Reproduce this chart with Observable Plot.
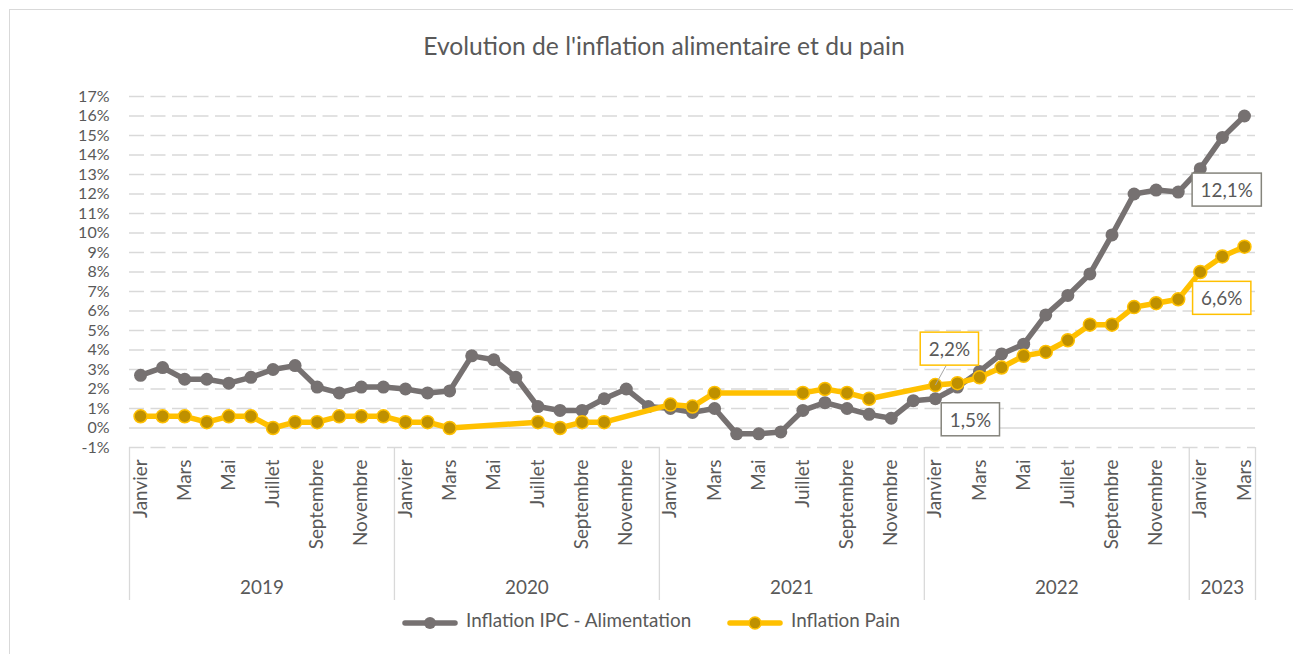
<!DOCTYPE html>
<html>
<head>
<meta charset="utf-8">
<script src="https://cdn.jsdelivr.net/npm/d3@7"></script>
<script src="https://cdn.jsdelivr.net/npm/@observablehq/plot@0.6"></script>
<style>
  html, body { margin: 0; padding: 0; background: #fff; overflow: hidden; }
  #wrap { position: relative; width: 1293px; height: 654px; overflow: hidden; font-family: Lato, "Open Sans", sans-serif; color: #595959; }
  #frame { position: absolute; left: 9px; top: 9px; width: 1500px; height: 900px; border: 1.5px solid #d9d9d9; box-sizing: border-box; }
  #chart { position: absolute; left: 0; top: 0; }
  #title { position: absolute; white-space: nowrap; line-height: 1; transform: translateX(-50%); }
  .leg { position: absolute; white-space: nowrap; line-height: 1; }
  .legsw { position: absolute; }
</style>
</head>
<body>
<div id="wrap">
  <div id="frame"></div>
  <div id="chart"></div>
  <div id="title"></div>
  <div id="legend"></div>
</div>
<script>
// ---------- data ----------
const titleText = "Evolution de l'inflation alimentaire et du pain";
const years = [2019, 2020, 2021, 2022, 2023];
const monthNames = ["Janvier", "Février", "Mars", "Avril", "Mai", "Juin", "Juillet", "Août", "Septembre", "Octobre", "Novembre", "Décembre"];
const seriesNames = ["Inflation IPC - Alimentation", "Inflation Pain"];
const yTicks = [-1, 0, 1, 2, 3, 4, 5, 6, 7, 8, 9, 10, 11, 12, 13, 14, 15, 16, 17];

// Inflation IPC - Alimentation (%), Jan 2019 .. Mar 2023
const ipc = [
  2.7, 3.1, 2.5, 2.5, 2.3, 2.6, 3.0, 3.2, 2.1, 1.8, 2.1, 2.1,
  2.0, 1.8, 1.9, 3.7, 3.5, 2.6, 1.1, 0.9, 0.9, 1.5, 2.0, 1.1,
  1.0, 0.8, 1.0, -0.3, -0.3, -0.2, 0.9, 1.3, 1.0, 0.7, 0.5, 1.4,
  1.5, 2.1, 2.9, 3.8, 4.3, 5.8, 6.8, 7.9, 9.9, 12.0, 12.2, 12.1,
  13.3, 14.9, 16.0
];
// Inflation Pain (%), null = no observation
const pain = [
  0.6, 0.6, 0.6, 0.3, 0.6, 0.6, 0.0, 0.3, 0.3, 0.6, 0.6, 0.6,
  0.3, 0.3, 0.0, null, null, null, 0.3, 0.0, 0.3, 0.3, null, null,
  1.2, 1.1, 1.8, null, null, null, 1.8, 2.0, 1.8, 1.5, null, null,
  2.2, 2.3, 2.6, 3.1, 3.7, 3.9, 4.5, 5.3, 5.3, 6.2, 6.4, 6.6,
  8.0, 8.8, 9.3
];
// labelled points: [year, month index]
const labelIpcA = [2022, 0];
const labelIpcB = [2022, 11];
const labelPainA = [2022, 0];
const labelPainB = [2022, 11];

// ---------- styling ----------
const FONT = "Lato";
const GRAY = "#767171";
const GOLD = "#ffc000";
const GOLD_DARK = "#bf9000";
const BOX_GRAY = "#85847c";
const GRID = "#d9d9d9";

function fitSize(txt, target) {
  const c = document.createElement("canvas").getContext("2d");
  c.font = `100px ${FONT}`;
  return 100 * target / c.measureText(txt).width;
}
const fsLabel = fitSize(seriesNames[0], 226);
const fsTitle = fitSize(titleText, 482);
const fsTick = 16;

// ---------- table ----------
const data = d3.range(ipc.length).map(i => ({
  i,
  year: years[0] + Math.floor(i / 12),
  m: i % 12,
  month: monthNames[i % 12],
  ipc: ipc[i],
  pain: pain[i]
}));
const yearInfo = years.map(y => {
  const idx = data.filter(d => d.year === y).map(d => d.i);
  return {year: y, center: d3.mean(idx), start: d3.min(idx) - 0.5, end: d3.max(idx) + 0.5};
});
const bounds = Array.from(new Set(yearInfo.flatMap(d => [d.start, d.end])));
const yMin = d3.min(yTicks), yMax = d3.max(yTicks);
const painData = data.filter(d => d.pain != null);
const fmt = v => v.toFixed(1).replace(".", ",") + "%";
const pick = ([y, m]) => data.filter(d => d.year === y && d.m === m);

const chart = Plot.plot({
  width: 1293,
  height: 654,
  marginLeft: 129,
  marginRight: 38,
  marginTop: 96,
  marginBottom: 207,
  style: {fontFamily: FONT, fontSize: fsLabel + "px", color: "#595959", background: "transparent", overflow: "visible"},
  x: {type: "linear", domain: [-0.5, data.length - 0.5], axis: null},
  y: {domain: [yMin, yMax], ticks: yTicks, tickFormat: d => d + "%", tickSize: 0, tickPadding: 20, label: null},
  marks: [
    Plot.ruleY(yTicks.filter(t => t !== 0), {stroke: GRID, strokeWidth: 1.3, strokeDasharray: "15,6.5"}),
    Plot.ruleY([0], {stroke: GRID, strokeWidth: 1.3}),
    Plot.ruleX(bounds, {x: d => d, y1: yMin, y2: yMin, stroke: GRID, strokeWidth: 1.3, insetBottom: -153}),
    Plot.text(data.filter(d => d.m % 2 === 0), {x: "i", text: "month", frameAnchor: "bottom", dy: 12, rotate: -90, textAnchor: "end", lineAnchor: "middle"}),
    Plot.text(yearInfo, {x: "center", text: d => String(d.year), frameAnchor: "bottom", dy: 140, lineAnchor: "middle"}),
    Plot.line(data, {x: "i", y: "ipc", stroke: GRAY, strokeWidth: 5.5, strokeLinejoin: "round", strokeLinecap: "round"}),
    Plot.dot(data, {x: "i", y: "ipc", r: 6.5, fill: GRAY, stroke: "none"}),
    Plot.line(painData, {x: "i", y: "pain", stroke: GOLD, strokeWidth: 5.5, strokeLinejoin: "round", strokeLinecap: "round"}),
    Plot.dot(painData, {x: "i", y: "pain", r: 6.5, fill: GOLD_DARK, stroke: GOLD, strokeWidth: 1.5}),
    Plot.text(pick(labelIpcA), {x: "i", y: "ipc", text: d => fmt(d.ipc), dx: 35, dy: 22, lineAnchor: "middle"}),
    Plot.text(pick(labelIpcB), {x: "i", y: "ipc", text: d => fmt(d.ipc), dx: 48.5, dy: -1, lineAnchor: "middle"}),
    Plot.text(pick(labelPainA), {x: "i", y: "pain", text: d => fmt(d.pain), dx: 14, dy: -35, lineAnchor: "middle"}),
    Plot.text(pick(labelPainB), {x: "i", y: "pain", text: d => fmt(d.pain), dx: 43.5, dy: 0, lineAnchor: "middle"})
  ]
});
document.getElementById("chart").appendChild(chart);

// y tick labels a bit smaller so they do not collide
d3.select(chart).selectAll("text").filter(function () {
  return /^-?\d+%$/.test(this.textContent.trim());
}).style("font-size", fsTick + "px");

// boxes around data labels
const PADX = 8.5, PADY = 5;
const labelSpecs = [
  {text: fmt(pick(labelIpcA)[0].ipc), stroke: BOX_GRAY, dx: 35, dy: 22, leader: false},
  {text: fmt(pick(labelIpcB)[0].ipc), stroke: BOX_GRAY, dx: 48.5, dy: -1, leader: false},
  {text: fmt(pick(labelPainA)[0].pain), stroke: GOLD, dx: 14, dy: -35, leader: true},
  {text: fmt(pick(labelPainB)[0].pain), stroke: GOLD, dx: 43.5, dy: 0, leader: false}
];
const SVGNS = "http://www.w3.org/2000/svg";
labelSpecs.forEach(spec => {
  const t = Array.from(chart.querySelectorAll("text")).find(e => e.textContent.trim() === spec.text);
  if (!t) return;
  const parent = t.parentNode;
  const b = t.getBBox();
  const tt = t.getAttribute("transform");
  if (spec.leader) {
    const px = (+t.getAttribute("x") || 0) - spec.dx;
    const py = (+t.getAttribute("y") || 0) - spec.dy;
    const ln = document.createElementNS(SVGNS, "line");
    ln.setAttribute("x1", b.x + b.width / 2 - 3);
    ln.setAttribute("y1", b.y + b.height + PADY);
    ln.setAttribute("x2", px);
    ln.setAttribute("y2", py);
    ln.setAttribute("stroke", "#a6a6a6");
    ln.setAttribute("stroke-width", "1");
    if (tt) ln.setAttribute("transform", tt);
    parent.insertBefore(ln, t);
  }
  const r = document.createElementNS(SVGNS, "rect");
  r.setAttribute("x", b.x - PADX);
  r.setAttribute("y", b.y - PADY);
  r.setAttribute("width", b.width + 2 * PADX);
  r.setAttribute("height", b.height + 2 * PADY);
  r.setAttribute("fill", "#fff");
  r.setAttribute("stroke", spec.stroke);
  r.setAttribute("stroke-width", "1.5");
  if (tt) r.setAttribute("transform", tt);
  parent.insertBefore(r, t);
});

// title
const title = document.getElementById("title");
title.textContent = titleText;
title.style.fontFamily = FONT;
title.style.fontSize = fsTitle + "px";
title.style.left = "664px";
title.style.top = (56 - 0.887 * fsTitle) + "px";

// legend
const legend = document.getElementById("legend");
const legItems = [
  {name: seriesNames[0], line: GRAY, fill: GRAY, stroke: "none", sw: 403, tx: 466},
  {name: seriesNames[1], line: GOLD, fill: GOLD_DARK, stroke: GOLD, sw: 728, tx: 791}
];
legItems.forEach(it => {
  const s = d3.create("svg").attr("class", "legsw").attr("width", 56).attr("height", 16)
    .style("left", (it.sw - 1) + "px").style("top", (623 - 8) + "px");
  s.append("line").attr("x1", 3).attr("x2", 53).attr("y1", 8).attr("y2", 8)
    .attr("stroke", it.line).attr("stroke-width", 5.5).attr("stroke-linecap", "round");
  s.append("circle").attr("cx", 28).attr("cy", 8).attr("r", 6)
    .attr("fill", it.fill).attr("stroke", it.stroke).attr("stroke-width", 1.5);
  legend.appendChild(s.node());
  const t = document.createElement("div");
  t.className = "leg";
  t.textContent = it.name;
  t.style.fontFamily = FONT;
  t.style.fontSize = fsLabel + "px";
  t.style.left = it.tx + "px";
  t.style.top = (623 - 0.62 * fsLabel) + "px";
  legend.appendChild(t);
});
</script>
</body>
</html>
